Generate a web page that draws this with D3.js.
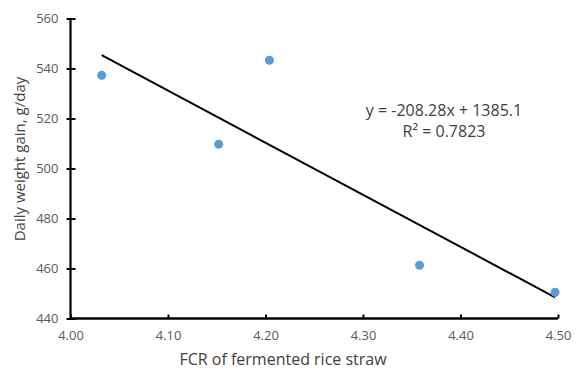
<!DOCTYPE html>
<html><head><meta charset="utf-8">
<script src="https://cdn.jsdelivr.net/npm/d3@7"></script>
<style>body{margin:0;background:#fff}svg{display:block}text{font-family:"Open Sans","Liberation Sans",sans-serif}</style>
</head><body><svg id="c" width="577" height="370"></svg>
<script>
const fcr = [4.032, 4.152, 4.204, 4.358, 4.497];
const gain = [537.3, 509.7, 543.3, 461.3, 450.5];
const xTicks = [4.0, 4.1, 4.2, 4.3, 4.4, 4.5];
const yTicks = [440, 460, 480, 500, 520, 540, 560];
const trendSlope = -208.28;
const trendIntercept = 1385.1;
const eqLines = ["y = -208.28x + 1385.1", "R² = 0.7823"];

const svg = d3.select("#c");
const x = d3.scaleLinear().domain([4.0, 4.5]).range([70.5, 558]);
const y = d3.scaleLinear().domain([440, 560]).range([318.5, 18.5]);

// y axis
const ya = svg.append("g").attr("transform","translate(70.5,0)")
  .call(d3.axisLeft(y).tickValues(yTicks).tickFormat(d3.format("d")).tickSize(4).tickPadding(8));
ya.select(".domain").attr("stroke","#000").attr("stroke-width",2.2).attr("d","M0,"+y(560)+"V"+y(440));
ya.selectAll(".tick line").attr("x1",-4).attr("x2",5).attr("stroke","#000").attr("stroke-width",2);
ya.selectAll(".tick text").attr("fill","#595959").style("font-size","13px");

// x axis
const xa = svg.append("g").attr("transform","translate(0,318.5)")
  .call(d3.axisBottom(x).tickValues(xTicks).tickFormat(d3.format(".2f")).tickSize(0).tickPadding(12));
xa.select(".domain").attr("stroke","#000").attr("stroke-width",2.4).attr("d","M"+x(4.0)+",0H"+x(4.5));
xa.selectAll(".tick line").attr("y1",0).attr("y2",-4).attr("stroke","#000").attr("stroke-width",2);
xa.selectAll(".tick text").attr("fill","#595959").style("font-size","13px");

// trendline
const ext = d3.extent(fcr);
svg.append("line")
  .attr("x1", x(ext[0])).attr("y1", y(trendSlope*ext[0]+trendIntercept))
  .attr("x2", x(ext[1])).attr("y2", y(trendSlope*ext[1]+trendIntercept))
  .attr("stroke","#000").attr("stroke-width",2);

// points
svg.append("g").selectAll("circle").data(fcr).join("circle")
  .attr("cx",(d)=>x(d)).attr("cy",(d,i)=>y(gain[i])).attr("r",4.5).attr("fill","#5B9BD5");

// equation
svg.append("g").selectAll("text").data(eqLines).join("text")
  .attr("x",444).attr("y",(d,i)=>116+i*21).attr("text-anchor","middle")
  .attr("fill","#404040").style("font-size","16px").text(d=>d);

// axis titles
svg.append("text").attr("x",283).attr("y",365).attr("text-anchor","middle")
  .attr("fill","#404040").style("font-size","16px").text("FCR of fermented rice straw");
svg.append("text").attr("transform","translate(25,159) rotate(-90)").attr("text-anchor","middle")
  .attr("fill","#404040").style("font-size","15px").text("Daily weight gain, g/day");
</script></body></html>
